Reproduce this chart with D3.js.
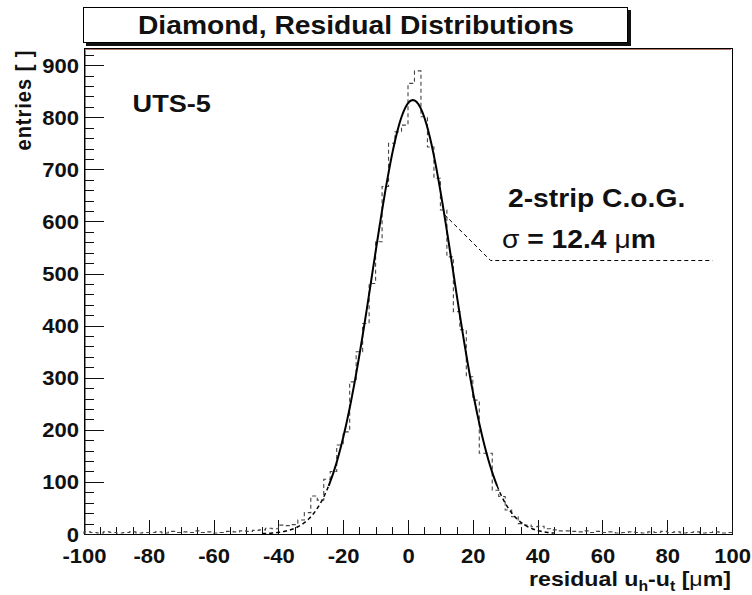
<!DOCTYPE html>
<html>
<head>
<meta charset="utf-8">
<script src="https://cdn.jsdelivr.net/npm/d3@7/dist/d3.min.js"></script>
<style>
  html, body { margin: 0; padding: 0; background: #fff; }
  svg { display: block; }
  text { font-family: "Liberation Sans", Arial, Helvetica, sans-serif; font-weight: bold; fill: #111; }
</style>
</head>
<body>
<svg id="chart" width="752" height="595"></svg>
<script>
// Residual histogram: 100 bins of 2 µm from -100 to 100 µm
const binStart = -100;
const binWidth = 2;
const tailLeft   = [4,3,2,4,3,2,3,4,2,3,3,4,2,5,3,4,3,6,3,4,2,3,5,4,6,5,7];          // -100 .. -48
const riseSide   = [8,11,10,17,16,18,27,41,73,65,105,120,171,196,292,350,404,481,561,667,750,772,785]; // -46 .. -2
const fallSide   = [865,889,801,743,683,622,532,427,392,302,257,155,155,84,72,46,33,20,17,14,15,10,8,6]; // 0 .. 46
const tailRight  = [6,5,4,6,3,5,3,4,2,3,4,3,2,4,3,5,3,4,2,3,4,2,3,4,2,3];            // 48 .. 98
const counts = [...tailLeft, ...riseSide, ...fallSide, ...tailRight];

// Gaussian fit parameters
const fitAmp = 833;
const fitMean = 1.5;
const fitSigma = 12.4;
const fitSolidRange = [-24.5, 27.5];
const fitFullRange = [-45, 45];

// Axis ticks
const xMajorTicks = [-100, -80, -60, -40, -20, 0, 20, 40, 60, 80, 100];
const yMajorTicks = [0, 100, 200, 300, 400, 500, 600, 700, 800, 900];

const titleText = "Diamond, Residual Distributions";
const detectorLabel = "UTS-5";
const methodLabel = "2-strip C.o.G.";

const SX = 1.13; // horizontal glyph stretch used throughout the figure

const svg = d3.select("#chart");
const x = d3.scaleLinear().domain([-100, 100]).range([84, 732]);
const y = d3.scaleLinear().domain([0, 933]).range([534, 48]);

// Title box with shadow
svg.append("rect").attr("x", 86).attr("y", 10).attr("width", 545).attr("height", 36).attr("fill", "#111");
svg.append("rect").attr("x", 83.5).attr("y", 7.5).attr("width", 544).attr("height", 35)
  .attr("fill", "#fff").attr("stroke", "#000").attr("stroke-width", 1);
svg.append("g").attr("transform", `translate(356,34) scale(${SX},1)`)
  .append("text").attr("text-anchor", "middle").style("font-size", "25px").text(titleText);

// Frame
svg.append("rect").attr("x", 84).attr("y", 48).attr("width", 648).attr("height", 486)
  .attr("fill", "#fff").attr("stroke", "#000").attr("stroke-width", 1).attr("shape-rendering", "crispEdges");
svg.append("path").attr("d", "M85.5,534 V49.5 H731").attr("fill", "none")
  .attr("stroke", "#b07868").attr("stroke-width", 1).attr("shape-rendering", "crispEdges");

// Axes: major and minor ticks pointing into the frame
const xMinor = d3.range(-100, 100.1, 5).filter(v => v % 20 !== 0);
const yMinor = d3.range(0, 933, 20).filter(v => v % 100 !== 0);

const gxMinor = svg.append("g").attr("transform", "translate(0,534)")
  .call(d3.axisBottom(x).tickValues(xMinor).tickSize(-7).tickFormat(""));
const gxMajor = svg.append("g").attr("transform", "translate(0,534)")
  .call(d3.axisBottom(x).tickValues(xMajorTicks).tickSize(-14).tickFormat(d => String(d)));
const gyMinor = svg.append("g").attr("transform", "translate(84,0)")
  .call(d3.axisLeft(y).tickValues(yMinor).tickSize(-10).tickFormat(""));
const gyMajor = svg.append("g").attr("transform", "translate(84,0)")
  .call(d3.axisLeft(y).tickValues(yMajorTicks).tickSize(-20).tickFormat(d => String(d)));

[gxMinor, gxMajor, gyMinor, gyMajor].forEach(g => {
  g.select(".domain").remove();
  g.selectAll("line").attr("stroke", "#111").attr("shape-rendering", "crispEdges");
});
gxMajor.selectAll("text")
  .attr("y", 29).attr("dy", null)
  .attr("transform", `scale(${SX},1)`)
  .style("font-size", "19.5px").style("font-family", null).attr("fill", null);
gyMajor.selectAll("text")
  .attr("x", -4.4).attr("dy", "0.36em")
  .attr("transform", `scale(${SX},1)`)
  .style("font-size", "19.5px").style("font-family", null).attr("fill", null);
[gxMajor, gyMajor].forEach(g => g.attr("font-family", null).attr("font-size", null));

// Histogram outline (dashed steps)
const histPath = d3.path();
histPath.moveTo(x(binStart), y(0));
counts.forEach((c, i) => {
  const lo = binStart + i * binWidth;
  histPath.lineTo(x(lo), y(c));
  histPath.lineTo(x(lo + binWidth), y(c));
});
histPath.lineTo(x(binStart + counts.length * binWidth), y(0));
svg.append("path").attr("d", histPath.toString())
  .attr("fill", "none").attr("stroke", "#444").attr("stroke-width", 1.1)
  .attr("stroke-dasharray", "4,3");

// Gaussian fit curve
const gauss = v => fitAmp * Math.exp(-0.5 * Math.pow((v - fitMean) / fitSigma, 2));
const sample = (a, b) => d3.range(a, b + 1e-9, 0.25).map(v => [v, gauss(v)]);
const line = d3.line().x(d => x(d[0])).y(d => y(d[1]));

svg.append("path").attr("d", line(sample(fitFullRange[0], fitSolidRange[0])))
  .attr("fill", "none").attr("stroke", "#000").attr("stroke-width", 1.5).attr("stroke-dasharray", "4,3");
svg.append("path").attr("d", line(sample(fitSolidRange[1], fitFullRange[1])))
  .attr("fill", "none").attr("stroke", "#000").attr("stroke-width", 1.5).attr("stroke-dasharray", "4,3");
svg.append("path").attr("d", line(sample(fitSolidRange[0], fitSolidRange[1])))
  .attr("fill", "none").attr("stroke", "#000").attr("stroke-width", 2);

// Leader line from the curve to the fit label
const leader = [[11.2, gauss(11.2)], [25.5, 525], [94, 525]];
svg.append("path").attr("d", line(leader))
  .attr("fill", "none").attr("stroke", "#000").attr("stroke-width", 1).attr("stroke-dasharray", "4,3");

// Labels inside the frame
svg.append("g").attr("transform", `translate(${x(-85)},112) scale(${SX},1)`)
  .append("text").style("font-size", "24px").text(detectorLabel);
svg.append("g").attr("transform", `translate(508,207) scale(${SX},1)`)
  .append("text").style("font-size", "25px").text(methodLabel);
const sig = svg.append("g").attr("transform", `translate(502,248) scale(${SX},1)`)
  .append("text").style("font-size", "25px");
sig.append("tspan").style("font-weight", "normal").text("σ");
sig.append("tspan").text(` = ${fitSigma} `);
sig.append("tspan").style("font-weight", "normal").text("μ");
sig.append("tspan").text("m");

// Axis titles
const xt = svg.append("g").attr("transform", `translate(731,586) scale(${SX},1)`)
  .append("text").attr("text-anchor", "end").style("font-size", "20.5px");
xt.append("tspan").text("residual u");
xt.append("tspan").attr("dy", 5).style("font-size", "14px").text("h");
xt.append("tspan").attr("dy", -5).text("-u");
xt.append("tspan").attr("dy", 5).style("font-size", "14px").text("t");
xt.append("tspan").attr("dy", -5).text(" [");
xt.append("tspan").style("font-weight", "normal").text("μ");
xt.append("tspan").text("m]");

svg.append("g").attr("transform", `translate(31,100) scale(${SX},1) rotate(-90)`)
  .append("text").attr("text-anchor", "middle").style("font-size", "20px")
  .style("letter-spacing", "1px").text("entries [ ]");
</script>
</body>
</html>
